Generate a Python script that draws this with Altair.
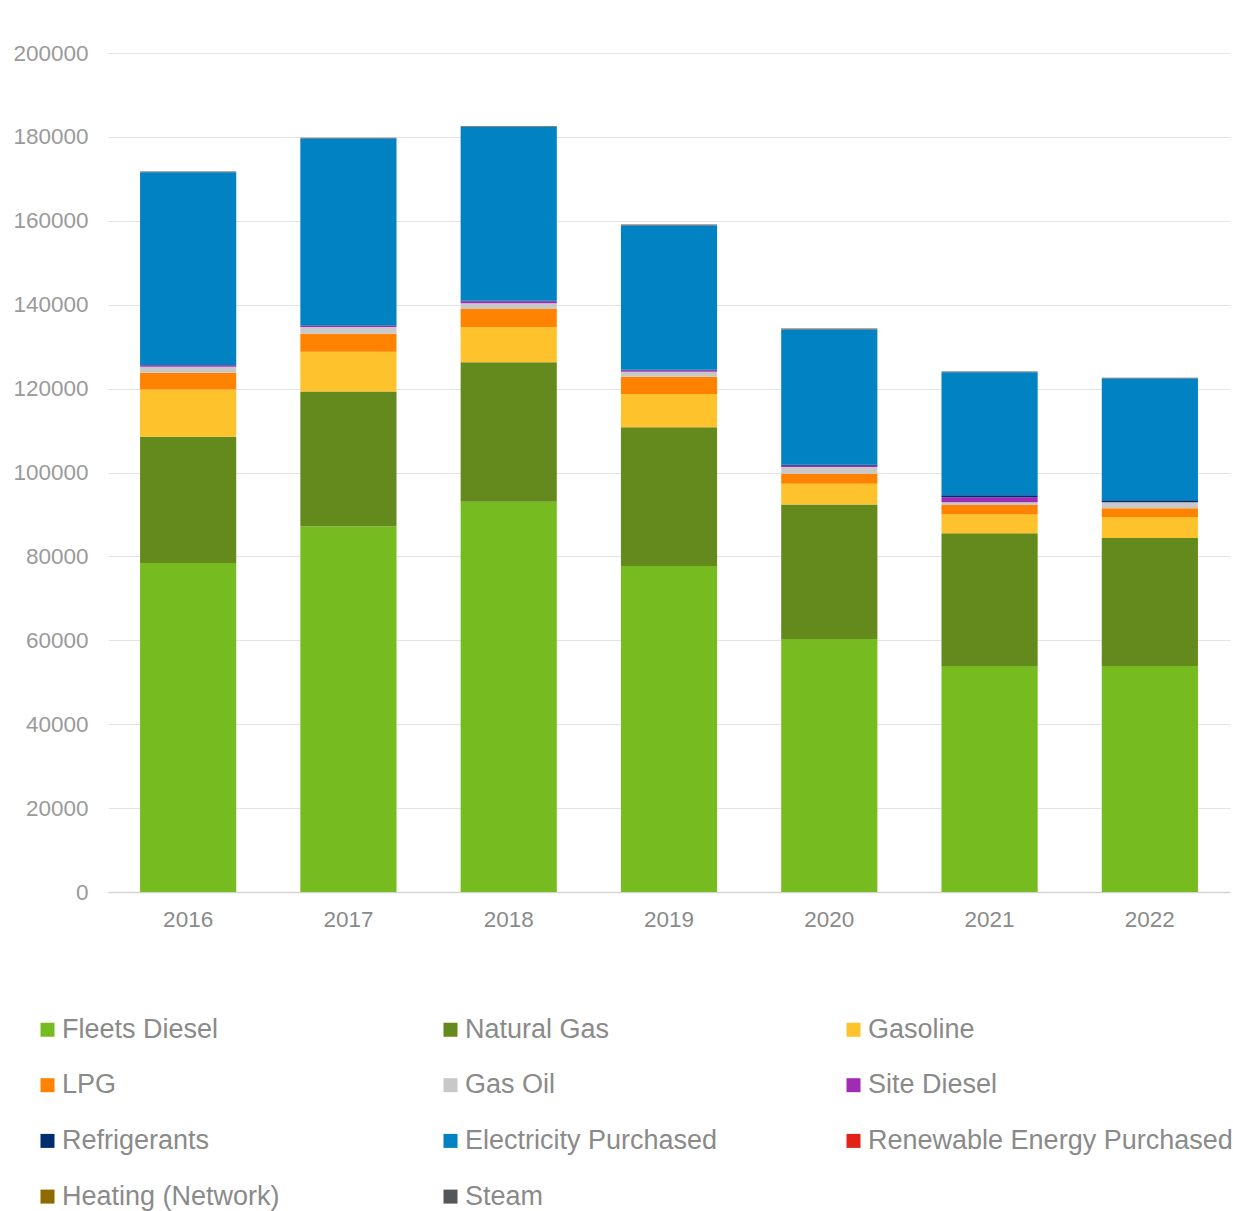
import altair as alt
import pandas as pd

years = ["2016", "2017", "2018", "2019", "2020", "2021", "2022"]

fleets_diesel = [78.4, 87.2, 93.0, 77.7, 60.3, 53.9, 53.9]
natural_gas = [30.1, 32.1, 33.3, 33.1, 32.1, 31.6, 30.5]
gasoline = [11.3, 9.5, 8.3, 7.9, 4.9, 4.5, 5.0]
lpg = [4.0, 4.3, 4.4, 4.1, 2.4, 2.25, 2.1]
gas_oil = [1.4, 1.6, 1.35, 1.2, 1.6, 0.65, 1.4]
site_diesel = [0.35, 0.3, 0.5, 0.4, 0.3, 1.2, 0.0]
refrigerants = [0.1, 0.1, 0.1, 0.1, 0.3, 0.5, 0.5]
electricity = [45.9, 44.5, 41.4, 34.4, 32.2, 29.3, 29.0]
renewable = [0.0, 0.0, 0.0, 0.0, 0.0, 0.0, 0.0]
heating = [0.0, 0.0, 0.0, 0.0, 0.0, 0.0, 0.0]
steam = [0.2, 0.2, 0.2, 0.2, 0.2, 0.2, 0.2]

series_names = ["Fleets Diesel", "Natural Gas", "Gasoline", "LPG", "Gas Oil",
                "Site Diesel", "Refrigerants", "Electricity Purchased",
                "Renewable Energy Purchased", "Heating (Network)", "Steam"]
series_values = [fleets_diesel, natural_gas, gasoline, lpg, gas_oil, site_diesel,
                 refrigerants, electricity, renewable, heating, steam]
colors = ["#76bc21", "#648a1e", "#fdc22c", "#ff8300", "#c8c8c8", "#a02cb6",
          "#002d72", "#0082c3", "#e2231a", "#8e6b00", "#54575a"]

# legend is laid out column by column; this order gives the reference's row-wise grid
legend_order = [0, 3, 6, 9, 1, 4, 7, 10, 2, 5, 8]
legend_domain = [series_names[i] for i in legend_order]
legend_range = [colors[i] for i in legend_order]

rows = []
for i, (name, vals) in enumerate(zip(series_names, series_values)):
    for y, v in zip(years, vals):
        rows.append({"Year": y, "Source": name, "Value": v * 1000, "order": i})
df = pd.DataFrame(rows)

chart = alt.Chart(df).mark_bar().encode(
    x=alt.X("Year:N", sort=years, title=None,
            scale=alt.Scale(paddingInner=0.4, paddingOuter=0.2),
            axis=alt.Axis(labelAngle=0, ticks=False, labelPadding=16,
                          labelFontSize=22.5, labelColor="#8a8a8a",
                          domainColor="#d4d4d4", domainWidth=1.5,
                          labelFont="Liberation Sans")),
    y=alt.Y("Value:Q", stack="zero", title=None,
            scale=alt.Scale(domain=[0, 200000], nice=False),
            axis=alt.Axis(values=list(range(0, 200001, 20000)), format="d",
                          ticks=False, domain=False, labelPadding=20,
                          labelFontSize=22.5, labelColor="#9a9a9a",
                          gridColor="#e3e3e3", gridWidth=1.2,
                          labelFont="Liberation Sans")),
    color=alt.Color("Source:N",
                    scale=alt.Scale(domain=legend_domain, range=legend_range),
                    legend=alt.Legend(title=None, orient="none",
                                      legendX=-74, legendY=963,
                                      columns=3, gridAlign="all",
                                      columnPadding=10, rowPadding=27.7,
                                      symbolType="square", symbolSize=196,
                                      symbolStrokeWidth=0, labelOffset=1,
                                      labelFontSize=27, labelColor="#8a8a8a",
                                      labelFont="Liberation Sans",
                                      labelLimit=500, padding=0)),
    order=alt.Order("order:Q", sort="ascending"),
).properties(
    width=1122, height=839,
    background="white",
    autosize=alt.AutoSizeParams(type="none"),
    padding={"left": 108, "top": 53, "right": 3, "bottom": 319},
).configure_view(stroke=None)

chart.save("out.html", embed_options={"renderer": "svg", "actions": False})
